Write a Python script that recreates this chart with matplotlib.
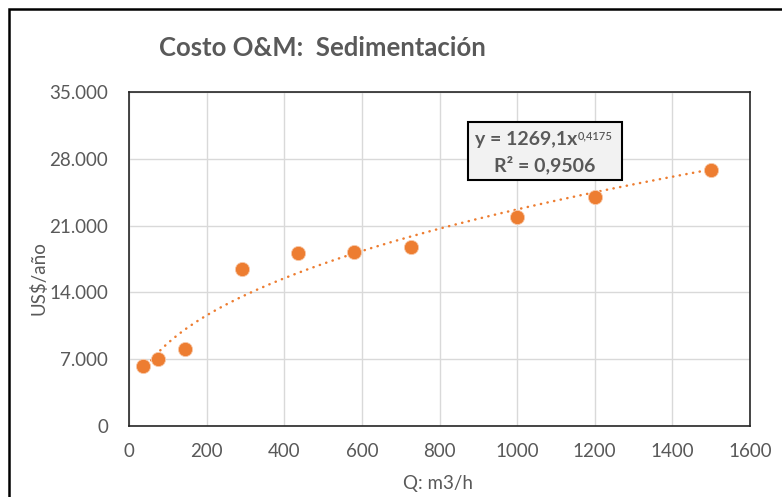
import numpy as np
import matplotlib
matplotlib.use("Agg")
from matplotlib import pyplot as plt
from matplotlib.patches import Rectangle
from matplotlib.text import Annotation
from matplotlib.ticker import FuncFormatter, MultipleLocator

# Caudal (m3/h) y costo anual de O&M (US$/año)
caudal = [37, 74, 145, 290, 436, 580, 726, 1000, 1200, 1500]
costo = [6265, 6970, 8050, 16410, 18090, 18260, 18720, 21930, 24030, 26830]

# Línea de tendencia potencial: y = a * x^b
coef_a = 1269.1
coef_b = 0.4175
r2 = 0.9506

naranja = "#ED7D31"
gris = "#595959"
fuente = "Lato"

W, H = 782, 497
fig = plt.figure(figsize=(W / 100, H / 100), dpi=100)


def fx(px):
    return px / W


def fy(py):
    return 1 - py / H


ax = fig.add_axes([fx(129), fy(426), fx(750) - fx(129), fy(92) - fy(426)])

xs = np.linspace(min(caudal), max(caudal), 300)
ax.plot(xs, coef_a * xs ** coef_b, color=naranja, linewidth=1.8,
        linestyle=(0, (0.1, 2.6)), dash_capstyle="round", zorder=2)
ax.scatter(caudal, costo, s=105, color=naranja, edgecolors="#F8CBAD",
           linewidths=0.6, zorder=3)

ax.set_xlim(0, 1600)
ax.set_ylim(0, 35000)
ax.xaxis.set_major_locator(MultipleLocator(200))
ax.yaxis.set_major_locator(MultipleLocator(7000))
ax.yaxis.set_major_formatter(FuncFormatter(lambda v, p: f"{v:,.0f}".replace(",", ".")))
ax.grid(True, color="#D9D9D9", linewidth=1)
ax.set_axisbelow(True)
ax.tick_params(length=0, labelsize=13.5, labelcolor=gris)
ax.tick_params(axis="y", pad=15)
ax.tick_params(axis="x", pad=12)
for lbl in ax.get_xticklabels() + ax.get_yticklabels():
    lbl.set_fontfamily(fuente)
for s in ax.spines.values():
    s.set_color("#262626")
    s.set_linewidth(1.2)

# Título y rótulos de ejes
fig.text(fx(322), fy(48), "Costo O&M:  Sedimentación", ha="center", va="center",
         fontsize=18.5, fontweight="bold", color=gris, family=fuente)
fig.text(fx(39), fy(278), "US$/año", rotation=90, ha="center", va="center",
         fontsize=13.5, color=gris, family=fuente)
fig.text(fx(438), fy(483), "Q: m3/h", ha="center", va="center",
         fontsize=13.5, color=gris, family=fuente)

# Recuadro con la ecuación
fig.patches.append(Rectangle((fx(468), fy(180)), fx(622) - fx(468), fy(122) - fy(180),
                             transform=fig.transFigure, facecolor="#F2F2F2",
                             edgecolor="black", linewidth=1.5, zorder=4))
eq = fig.text(fx(475), fy(139), f"y = {coef_a:.1f}x".replace(".", ","), ha="left",
              va="center", fontsize=14, fontweight="bold", color=gris,
              family=fuente, zorder=5)
fig.add_artist(Annotation(f"{coef_b:.4f}".replace(".", ","), xy=(1, 1), xycoords=eq,
                          xytext=(0.3, 0), textcoords="offset points", ha="left",
                          va="top", fontsize=8, fontweight="semibold", color=gris,
                          family=fuente, zorder=5))
fig.text(fx(545), fy(165), f"R² = {r2:.4f}".replace(".", ","), ha="center",
         va="center", fontsize=14, fontweight="bold", color=gris,
         family=fuente, zorder=5)

# Marco exterior del gráfico
fig.patches.append(Rectangle((fx(9), -0.5), 2, fy(9) + 0.5, transform=fig.transFigure,
                             fill=False, edgecolor="black", linewidth=1.8))

fig.savefig("out.png", dpi=100, facecolor="white")
